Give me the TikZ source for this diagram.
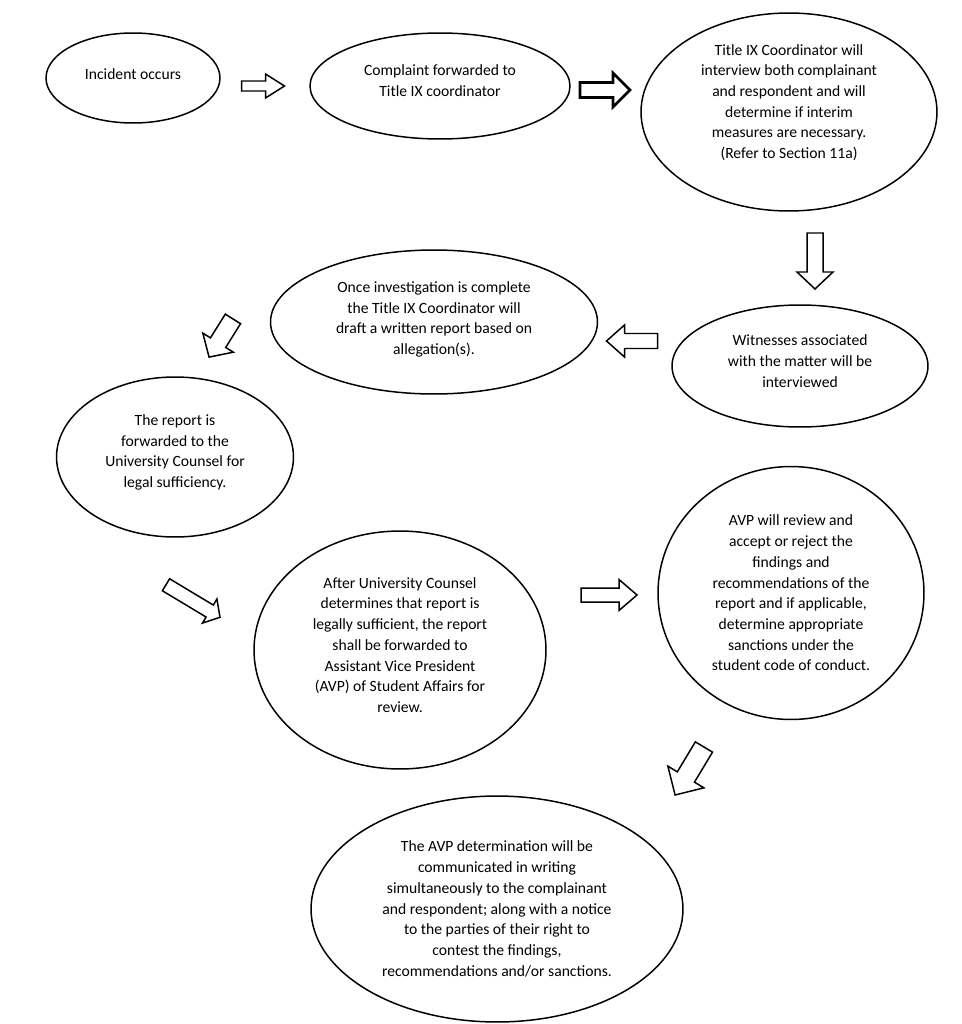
\documentclass[tikz,border=0pt]{standalone}
\usepackage{fontspec}
\setmainfont{Carlito}
\usetikzlibrary{shapes.geometric}
\newcommand{\stagefont}{\fontsize{8.9}{11.8}\selectfont}
\newcommand{\textlift}[1]{\rule[-#1]{0pt}{0pt}}
\tikzset{
  stage/.style={ellipse, draw, inner sep=0pt, align=center, font=\stagefont},
  arrowline/.style={draw, fill=white, line join=miter},
  pics/blockarrow/.style n args={4}{code={
    \draw[arrowline] (-#1/2, -#2) -- (#1/2-#4, -#2) -- (#1/2-#4, -#3) -- (#1/2, 0)
      -- (#1/2-#4, #3) -- (#1/2-#4, #2) -- (-#1/2, #2) -- cycle;
  }}
}
\begin{document}
\begin{tikzpicture}[x=0.02cm, y=-0.02cm, line width=0.85pt]
    \useasboundingbox (0, 0) rectangle (962, 1024);
    \node[stage, minimum width=3.48cm, minimum height=1.8cm] (incident) at (133, 78) {Incident occurs\textlift{4.5pt}};
    \node[stage, minimum width=5.2cm, minimum height=2.12cm] (complaint) at (440, 86) {Complaint forwarded to\\Title IX coordinator\textlift{6.5pt}};
    \node[stage, minimum width=5.92cm, minimum height=3.96cm] (interview) at (789, 112) {Title IX Coordinator will\\interview both complainant\\and respondent and will\\determine if interim\\measures are necessary.\\(Refer to Section 11a)\textlift{12pt}};
    \node[stage, minimum width=5.12cm, minimum height=2.44cm] (witnesses) at (800, 366) {Witnesses associated\\with the matter will be\\interviewed\textlift{5.7pt}};
    \node[stage, minimum width=6.54cm, minimum height=2.88cm] (draft) at (434, 322) {Once investigation is complete\\the Title IX Coordinator will\\draft a written report based on\\allegation(s).\textlift{4.5pt}};
    \node[stage, minimum width=4.74cm, minimum height=3.2cm] (counsel) at (175, 457) {The report is\\forwarded to the\\University Counsel for\\legal sufficiency.\textlift{6.7pt}};
    \node[stage, minimum width=5.84cm, minimum height=4.76cm] (forward) at (400, 650) {After University Counsel\\determines that report is\\legally sufficient, the report\\shall be forwarded to\\Assistant Vice President\\(AVP) of Student Affairs for\\review.\textlift{5.7pt}};
    \node[stage, minimum width=5.32cm, minimum height=5.06cm] (avpreview) at (791, 593) {AVP will review and\\accept or reject the\\findings and\\recommendations of the\\report and if applicable,\\determine appropriate\\sanctions under the\\student code of conduct.};
    \node[stage, minimum width=7.44cm, minimum height=4.52cm] (notice) at (497, 909) {The AVP determination will be\\communicated in writing\\simultaneously to the complainant\\and respondent; along with a notice\\to the parties of their right to\\contest the findings,\\recommendations and/or sanctions.};
    \pic (toComplaint) at (263, 86) {blockarrow={43}{5}{12}{19}};
    \pic[line width=1.5pt] (toInterview) at (605, 90) {blockarrow={50}{7.5}{17}{17}};
    \pic[rotate=-90] (toWitnesses) at (815, 261) {blockarrow={56}{8}{18}{17}};
    \pic[rotate=180] (toDraft) at (632, 341) {blockarrow={51}{7.5}{16}{18}};
    \pic[rotate=-122] (toCounsel) at (221, 338) {blockarrow={45}{9}{18}{17}};
    \pic[rotate=-31] (toForward) at (193, 601) {blockarrow={63}{7}{14}{12}};
    \pic (toReview) at (609, 595) {blockarrow={56}{7}{15.5}{18}};
    \pic[rotate=-121] (toNotice) at (689.5, 771) {blockarrow={56}{10}{21}{21}};
\end{tikzpicture}
\end{document}
